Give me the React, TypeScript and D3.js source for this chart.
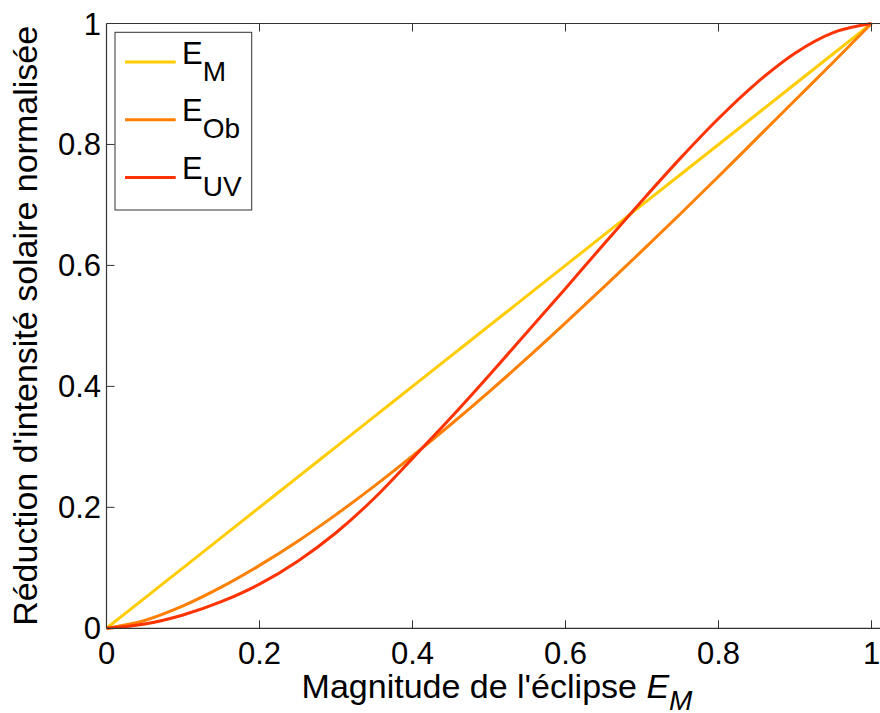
import React from "react";
import * as d3 from "d3";

const magnitude = [0, 0.05, 0.1, 0.15, 0.2, 0.25, 0.3, 0.35, 0.4, 0.45, 0.5, 0.55, 0.6, 0.65, 0.7, 0.75, 0.8, 0.85, 0.9, 0.95, 1.0];
const eM = [0, 0.05, 0.1, 0.15, 0.2, 0.25, 0.3, 0.35, 0.4, 0.45, 0.5, 0.55, 0.6, 0.65, 0.7, 0.75, 0.8, 0.85, 0.9, 0.95, 1.0];
const eOb = [0, 0.013, 0.037, 0.068, 0.104, 0.144, 0.188, 0.235, 0.285, 0.337, 0.391, 0.447, 0.505, 0.564, 0.624, 0.685, 0.747, 0.81, 0.873, 0.936, 1.0];
const eUV = [0, 0.007, 0.022, 0.044, 0.073, 0.111, 0.158, 0.215, 0.281, 0.348, 0.418, 0.49, 0.562, 0.635, 0.707, 0.777, 0.843, 0.902, 0.951, 0.985, 1.0];

const xTicks = [0, 0.2, 0.4, 0.6, 0.8, 1];
const yTicks = [0, 0.2, 0.4, 0.6, 0.8, 1];
const xTickLabels = ["0", "0.2", "0.4", "0.6", "0.8", "1"];
const yTickLabels = ["0", "0.2", "0.4", "0.6", "0.8", "1"];

const seriesNames = ["M", "Ob", "UV"];
const seriesColors = ["#FFCC00", "#FF8000", "#FF3300"];
const seriesValues = [eM, eOb, eUV];

const FONT = "'Liberation Sans', Arial, Helvetica, sans-serif";

export default function App() {
  const W = 880, H = 713;
  const left = 106.5, right = 890, top = 23.5, bottom = 628.3;
  const x = d3.scaleLinear().domain([0, 1]).range([left, left + 765]);
  const y = d3.scaleLinear().domain([0, 1]).range([bottom, top]);

  const line = d3
    .line<number>()
    .x((_, i) => x(magnitude[i]))
    .y((d) => y(d))
    .curve(d3.curveMonotoneX);

  const tickLen = 8;
  const axisColor = "#333333";

  return (
    <svg
      width={W}
      height={H}
      style={{ position: "absolute", left: 0, top: 0, background: "#fff" }}
      fontFamily={FONT}
    >
      <rect x={0} y={0} width={W} height={H} fill="#fff" />
      {seriesValues.map((vals, k) => (
        <path
          key={k}
          d={line(vals) || ""}
          fill="none"
          stroke={seriesColors[k]}
          strokeWidth={3}
          strokeLinejoin="round"
        />
      ))}
      <line x1={left} x2={right} y1={bottom} y2={bottom} stroke={axisColor} strokeWidth={1.2} />
      <line x1={left} x2={right} y1={top} y2={top} stroke={axisColor} strokeWidth={1.2} />
      <line x1={left} x2={left} y1={top} y2={bottom} stroke={axisColor} strokeWidth={1.2} />
      {xTicks.map((t, i) => (
        <g key={"xt" + i}>
          {i > 0 && (
            <>
              <line x1={x(t)} x2={x(t)} y1={bottom} y2={bottom - tickLen} stroke={axisColor} />
              <line x1={x(t)} x2={x(t)} y1={top} y2={top + tickLen} stroke={axisColor} />
            </>
          )}
          <text x={x(t)} y={664} textAnchor="middle" fontSize={31} fill="#000">
            {xTickLabels[i]}
          </text>
        </g>
      ))}
      {yTicks.map((t, i) => (
        <g key={"yt" + i}>
          {i > 0 && i < yTicks.length - 1 && (
            <line x1={left} x2={left + tickLen} y1={y(t)} y2={y(t)} stroke={axisColor} />
          )}
          <text x={101} y={y(t) + 11} textAnchor="end" fontSize={31} fill="#000">
            {yTickLabels[i]}
          </text>
        </g>
      ))}
      <text x={497} y={698} textAnchor="middle" fontSize={34} fill="#000">
        Magnitude de l'éclipse{" "}
        <tspan fontStyle="italic">E</tspan>
        <tspan fontStyle="italic" fontSize={28} dy={12}>M</tspan>
      </text>
      <text
        transform={`translate(37, ${(top + bottom) / 2}) rotate(-90)`}
        textAnchor="middle"
        fontSize={34}
        fill="#000"
      >
        Réduction d'intensité solaire normalisée
      </text>
      <rect x={115} y={32.3} width={136.7} height={177.7} fill="#fff" stroke={axisColor} strokeWidth={1} />
      {seriesNames.map((n, k) => {
        const ly = 62 + k * 57.8;
        return (
          <g key={"lg" + k}>
            <line x1={125} x2={175.7} y1={ly} y2={ly} stroke={seriesColors[k]} strokeWidth={3} />
            <text x={182} y={ly + 1.5} fontSize={31} fill="#000">
              E
              <tspan fontSize={28} dy={17}>{n}</tspan>
            </text>
          </g>
        );
      })}
    </svg>
  );
}
